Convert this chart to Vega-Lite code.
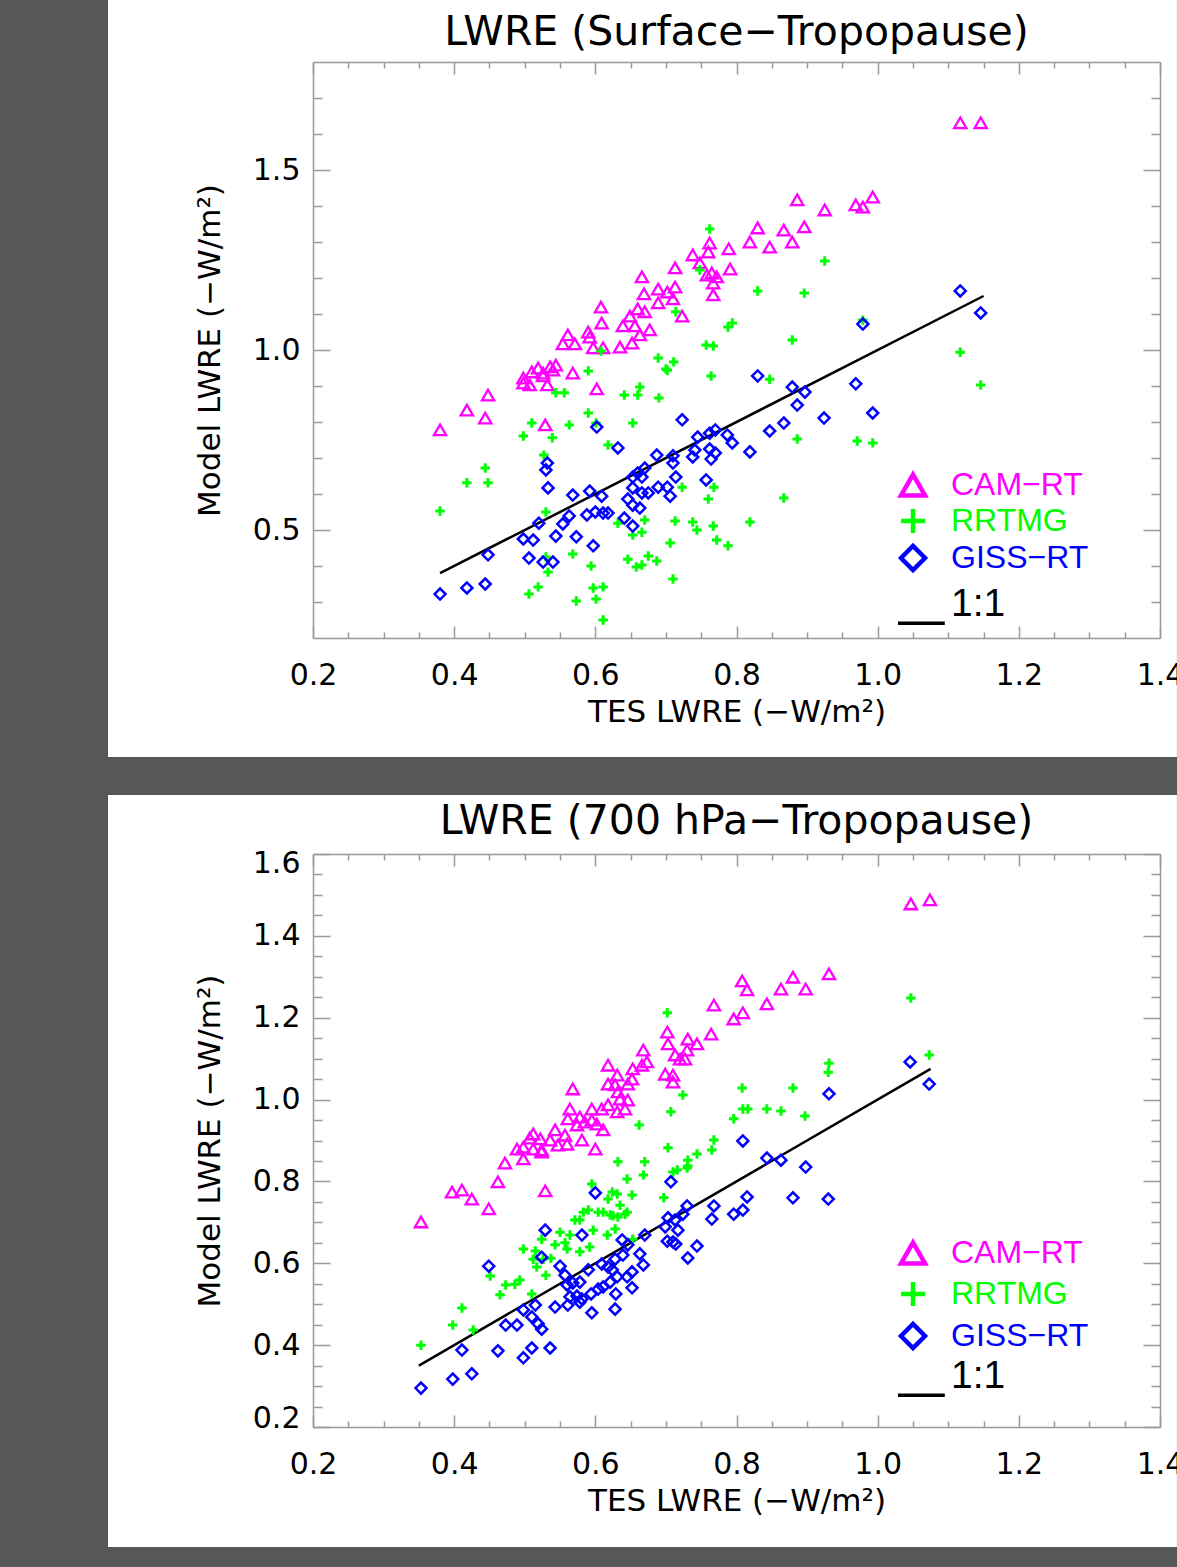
{
  "$schema": "https://vega.github.io/schema/vega-lite/v6.json",
  "background": "#575757",
  "padding": {"left": 108, "top": 0, "right": 0, "bottom": 22},
  "spacing": 36,
  "resolve": {"scale": {"color": "independent", "shape": "independent"}, "legend": {"color": "independent", "shape": "independent"}},
  "config": {
    "view": {"stroke": null},
    "axis": {"domainColor": "#999999", "domainWidth": 1.5, "tickColor": "#999999", "tickWidth": 1.5, "grid": false, "labelColor": "#000000", "titleColor": "#000000", "labelFont": "DejaVu Sans", "labelFontSize": 30, "titleFont": "DejaVu Sans", "titleFontSize": 31, "titleFontWeight": "normal"}
  },
  "datasets": {
    "tl": [{"x": 0.38, "y": 0.38}, {"x": 1.15, "y": 1.15}],
    "bl": [{"x": 0.35, "y": 0.35}, {"x": 1.075, "y": 1.075}],
    "tc": [
      {"m":"CAM−RT","x":0.380,"y":0.778},{"m":"CAM−RT","x":0.418,"y":0.833},{"m":"CAM−RT","x":0.444,"y":0.811},{"m":"CAM−RT","x":0.448,"y":0.875},{"m":"CAM−RT","x":0.498,"y":0.922},{"m":"CAM−RT","x":0.498,"y":0.908},{"m":"CAM−RT","x":0.507,"y":0.903},{"m":"CAM−RT","x":0.510,"y":0.939},{"m":"CAM−RT","x":0.519,"y":0.950},{"m":"CAM−RT","x":0.526,"y":0.928},{"m":"CAM−RT","x":0.526,"y":0.936},{"m":"CAM−RT","x":0.529,"y":0.792},{"m":"CAM−RT","x":0.532,"y":0.903},{"m":"CAM−RT","x":0.536,"y":0.953},{"m":"CAM−RT","x":0.540,"y":0.944},{"m":"CAM−RT","x":0.544,"y":0.958},{"m":"CAM−RT","x":0.554,"y":1.017},{"m":"CAM−RT","x":0.561,"y":1.042},{"m":"CAM−RT","x":0.568,"y":0.936},{"m":"CAM−RT","x":0.571,"y":1.017},{"m":"CAM−RT","x":0.590,"y":1.050},{"m":"CAM−RT","x":0.592,"y":1.036},{"m":"CAM−RT","x":0.597,"y":1.006},{"m":"CAM−RT","x":0.602,"y":0.892},{"m":"CAM−RT","x":0.608,"y":1.119},{"m":"CAM−RT","x":0.609,"y":1.075},{"m":"CAM−RT","x":0.611,"y":1.006},{"m":"CAM−RT","x":0.635,"y":1.008},{"m":"CAM−RT","x":0.639,"y":1.067},{"m":"CAM−RT","x":0.649,"y":1.094},{"m":"CAM−RT","x":0.652,"y":1.019},{"m":"CAM−RT","x":0.656,"y":1.067},{"m":"CAM−RT","x":0.660,"y":1.114},{"m":"CAM−RT","x":0.663,"y":1.042},{"m":"CAM−RT","x":0.666,"y":1.203},{"m":"CAM−RT","x":0.669,"y":1.156},{"m":"CAM−RT","x":0.670,"y":1.106},{"m":"CAM−RT","x":0.677,"y":1.056},{"m":"CAM−RT","x":0.689,"y":1.169},{"m":"CAM−RT","x":0.689,"y":1.131},{"m":"CAM−RT","x":0.702,"y":1.161},{"m":"CAM−RT","x":0.710,"y":1.142},{"m":"CAM−RT","x":0.713,"y":1.228},{"m":"CAM−RT","x":0.713,"y":1.175},{"m":"CAM−RT","x":0.723,"y":1.094},{"m":"CAM−RT","x":0.738,"y":1.264},{"m":"CAM−RT","x":0.748,"y":1.242},{"m":"CAM−RT","x":0.760,"y":1.272},{"m":"CAM−RT","x":0.762,"y":1.297},{"m":"CAM−RT","x":0.765,"y":1.214},{"m":"CAM−RT","x":0.767,"y":1.186},{"m":"CAM−RT","x":0.767,"y":1.153},{"m":"CAM−RT","x":0.758,"y":1.208},{"m":"CAM−RT","x":0.772,"y":1.203},{"m":"CAM−RT","x":0.789,"y":1.281},{"m":"CAM−RT","x":0.791,"y":1.225},{"m":"CAM−RT","x":0.819,"y":1.300},{"m":"CAM−RT","x":0.830,"y":1.339},{"m":"CAM−RT","x":0.847,"y":1.286},{"m":"CAM−RT","x":0.867,"y":1.333},{"m":"CAM−RT","x":0.879,"y":1.300},{"m":"CAM−RT","x":0.886,"y":1.417},{"m":"CAM−RT","x":0.896,"y":1.342},{"m":"CAM−RT","x":0.925,"y":1.389},{"m":"CAM−RT","x":0.969,"y":1.403},{"m":"CAM−RT","x":0.979,"y":1.397},{"m":"CAM−RT","x":0.993,"y":1.425},{"m":"CAM−RT","x":1.117,"y":1.631},{"m":"CAM−RT","x":1.146,"y":1.631}
    ],
    "tr": [
      {"m":"RRTMG","x":0.762,"y":1.336},{"m":"RRTMG","x":0.748,"y":1.222},{"m":"RRTMG","x":0.714,"y":1.106},{"m":"RRTMG","x":0.757,"y":1.014},{"m":"RRTMG","x":0.767,"y":1.011},{"m":"RRTMG","x":0.689,"y":0.978},{"m":"RRTMG","x":0.711,"y":0.967},{"m":"RRTMG","x":0.700,"y":0.947},{"m":"RRTMG","x":0.608,"y":0.997},{"m":"RRTMG","x":0.590,"y":0.942},{"m":"RRTMG","x":0.764,"y":0.928},{"m":"RRTMG","x":0.925,"y":1.247},{"m":"RRTMG","x":0.830,"y":1.164},{"m":"RRTMG","x":0.896,"y":1.158},{"m":"RRTMG","x":0.794,"y":1.075},{"m":"RRTMG","x":0.788,"y":1.064},{"m":"RRTMG","x":0.979,"y":1.083},{"m":"RRTMG","x":0.879,"y":1.028},{"m":"RRTMG","x":1.117,"y":0.994},{"m":"RRTMG","x":0.847,"y":0.919},{"m":"RRTMG","x":0.702,"y":0.944},{"m":"RRTMG","x":0.663,"y":0.897},{"m":"RRTMG","x":0.660,"y":0.875},{"m":"RRTMG","x":0.641,"y":0.875},{"m":"RRTMG","x":0.690,"y":0.867},{"m":"RRTMG","x":0.544,"y":0.881},{"m":"RRTMG","x":0.556,"y":0.881},{"m":"RRTMG","x":0.590,"y":0.825},{"m":"RRTMG","x":0.601,"y":0.797},{"m":"RRTMG","x":0.653,"y":0.797},{"m":"RRTMG","x":0.563,"y":0.792},{"m":"RRTMG","x":0.510,"y":0.797},{"m":"RRTMG","x":0.498,"y":0.761},{"m":"RRTMG","x":0.539,"y":0.756},{"m":"RRTMG","x":0.618,"y":0.736},{"m":"RRTMG","x":0.527,"y":0.708},{"m":"RRTMG","x":0.444,"y":0.672},{"m":"RRTMG","x":0.418,"y":0.631},{"m":"RRTMG","x":0.448,"y":0.631},{"m":"RRTMG","x":0.380,"y":0.553},{"m":"RRTMG","x":0.530,"y":0.550},{"m":"RRTMG","x":0.723,"y":0.619},{"m":"RRTMG","x":0.670,"y":0.528},{"m":"RRTMG","x":0.632,"y":0.519},{"m":"RRTMG","x":0.713,"y":0.525},{"m":"RRTMG","x":0.738,"y":0.522},{"m":"RRTMG","x":0.744,"y":0.500},{"m":"RRTMG","x":0.653,"y":0.486},{"m":"RRTMG","x":0.666,"y":0.494},{"m":"RRTMG","x":0.706,"y":0.464},{"m":"RRTMG","x":0.568,"y":0.433},{"m":"RRTMG","x":0.530,"y":0.425},{"m":"RRTMG","x":0.594,"y":0.400},{"m":"RRTMG","x":0.646,"y":0.419},{"m":"RRTMG","x":0.658,"y":0.397},{"m":"RRTMG","x":0.666,"y":0.403},{"m":"RRTMG","x":0.675,"y":0.428},{"m":"RRTMG","x":0.687,"y":0.414},{"m":"RRTMG","x":0.710,"y":0.364},{"m":"RRTMG","x":0.533,"y":0.383},{"m":"RRTMG","x":0.519,"y":0.342},{"m":"RRTMG","x":0.506,"y":0.322},{"m":"RRTMG","x":0.597,"y":0.339},{"m":"RRTMG","x":0.611,"y":0.342},{"m":"RRTMG","x":0.573,"y":0.303},{"m":"RRTMG","x":0.601,"y":0.308},{"m":"RRTMG","x":0.611,"y":0.250},{"m":"RRTMG","x":1.146,"y":0.903},{"m":"RRTMG","x":0.886,"y":0.753},{"m":"RRTMG","x":0.971,"y":0.747},{"m":"RRTMG","x":0.993,"y":0.742},{"m":"RRTMG","x":0.768,"y":0.619},{"m":"RRTMG","x":0.760,"y":0.586},{"m":"RRTMG","x":0.867,"y":0.589},{"m":"RRTMG","x":0.819,"y":0.522},{"m":"RRTMG","x":0.767,"y":0.511},{"m":"RRTMG","x":0.772,"y":0.472},{"m":"RRTMG","x":0.788,"y":0.456}
    ],
    "tg": [
      {"m":"GISS−RT","x":1.117,"y":1.164},{"m":"GISS−RT","x":1.146,"y":1.103},{"m":"GISS−RT","x":0.979,"y":1.072},{"m":"GISS−RT","x":0.830,"y":0.928},{"m":"GISS−RT","x":0.723,"y":0.806},{"m":"GISS−RT","x":0.602,"y":0.786},{"m":"GISS−RT","x":0.632,"y":0.728},{"m":"GISS−RT","x":0.532,"y":0.686},{"m":"GISS−RT","x":0.530,"y":0.667},{"m":"GISS−RT","x":0.533,"y":0.617},{"m":"GISS−RT","x":0.568,"y":0.597},{"m":"GISS−RT","x":0.592,"y":0.608},{"m":"GISS−RT","x":0.609,"y":0.594},{"m":"GISS−RT","x":0.687,"y":0.708},{"m":"GISS−RT","x":0.710,"y":0.706},{"m":"GISS−RT","x":0.710,"y":0.686},{"m":"GISS−RT","x":0.745,"y":0.758},{"m":"GISS−RT","x":0.660,"y":0.658},{"m":"GISS−RT","x":0.670,"y":0.672},{"m":"GISS−RT","x":0.666,"y":0.647},{"m":"GISS−RT","x":0.653,"y":0.647},{"m":"GISS−RT","x":0.653,"y":0.617},{"m":"GISS−RT","x":0.666,"y":0.603},{"m":"GISS−RT","x":0.675,"y":0.603},{"m":"GISS−RT","x":0.689,"y":0.619},{"m":"GISS−RT","x":0.702,"y":0.619},{"m":"GISS−RT","x":0.706,"y":0.594},{"m":"GISS−RT","x":0.714,"y":0.647},{"m":"GISS−RT","x":0.646,"y":0.586},{"m":"GISS−RT","x":0.653,"y":0.569},{"m":"GISS−RT","x":0.663,"y":0.561},{"m":"GISS−RT","x":0.588,"y":0.542},{"m":"GISS−RT","x":0.600,"y":0.550},{"m":"GISS−RT","x":0.611,"y":0.547},{"m":"GISS−RT","x":0.618,"y":0.547},{"m":"GISS−RT","x":0.563,"y":0.539},{"m":"GISS−RT","x":0.554,"y":0.517},{"m":"GISS−RT","x":0.520,"y":0.519},{"m":"GISS−RT","x":0.641,"y":0.533},{"m":"GISS−RT","x":0.653,"y":0.511},{"m":"GISS−RT","x":0.544,"y":0.483},{"m":"GISS−RT","x":0.573,"y":0.481},{"m":"GISS−RT","x":0.597,"y":0.456},{"m":"GISS−RT","x":0.498,"y":0.475},{"m":"GISS−RT","x":0.512,"y":0.472},{"m":"GISS−RT","x":0.448,"y":0.431},{"m":"GISS−RT","x":0.506,"y":0.422},{"m":"GISS−RT","x":0.526,"y":0.411},{"m":"GISS−RT","x":0.540,"y":0.411},{"m":"GISS−RT","x":0.444,"y":0.350},{"m":"GISS−RT","x":0.418,"y":0.339},{"m":"GISS−RT","x":0.380,"y":0.322},{"m":"GISS−RT","x":0.879,"y":0.897},{"m":"GISS−RT","x":0.897,"y":0.883},{"m":"GISS−RT","x":0.969,"y":0.906},{"m":"GISS−RT","x":0.886,"y":0.847},{"m":"GISS−RT","x":0.993,"y":0.825},{"m":"GISS−RT","x":0.924,"y":0.811},{"m":"GISS−RT","x":0.867,"y":0.797},{"m":"GISS−RT","x":0.847,"y":0.775},{"m":"GISS−RT","x":0.819,"y":0.717},{"m":"GISS−RT","x":0.762,"y":0.769},{"m":"GISS−RT","x":0.770,"y":0.778},{"m":"GISS−RT","x":0.787,"y":0.764},{"m":"GISS−RT","x":0.794,"y":0.742},{"m":"GISS−RT","x":0.741,"y":0.722},{"m":"GISS−RT","x":0.738,"y":0.703},{"m":"GISS−RT","x":0.762,"y":0.725},{"m":"GISS−RT","x":0.770,"y":0.714},{"m":"GISS−RT","x":0.764,"y":0.697},{"m":"GISS−RT","x":0.757,"y":0.639}
    ],
    "bc": [
      {"m":"CAM−RT","x":1.047,"y":1.478},{"m":"CAM−RT","x":1.074,"y":1.488},{"m":"CAM−RT","x":0.931,"y":1.307},{"m":"CAM−RT","x":0.880,"y":1.299},{"m":"CAM−RT","x":0.808,"y":1.290},{"m":"CAM−RT","x":0.815,"y":1.268},{"m":"CAM−RT","x":0.863,"y":1.270},{"m":"CAM−RT","x":0.898,"y":1.270},{"m":"CAM−RT","x":0.843,"y":1.234},{"m":"CAM−RT","x":0.768,"y":1.231},{"m":"CAM−RT","x":0.809,"y":1.212},{"m":"CAM−RT","x":0.796,"y":1.197},{"m":"CAM−RT","x":0.764,"y":1.160},{"m":"CAM−RT","x":0.702,"y":1.165},{"m":"CAM−RT","x":0.703,"y":1.136},{"m":"CAM−RT","x":0.731,"y":1.148},{"m":"CAM−RT","x":0.744,"y":1.136},{"m":"CAM−RT","x":0.730,"y":1.121},{"m":"CAM−RT","x":0.713,"y":1.109},{"m":"CAM−RT","x":0.720,"y":1.099},{"m":"CAM−RT","x":0.727,"y":1.099},{"m":"CAM−RT","x":0.699,"y":1.062},{"m":"CAM−RT","x":0.710,"y":1.060},{"m":"CAM−RT","x":0.710,"y":1.043},{"m":"CAM−RT","x":0.668,"y":1.121},{"m":"CAM−RT","x":0.673,"y":1.092},{"m":"CAM−RT","x":0.666,"y":1.084},{"m":"CAM−RT","x":0.618,"y":1.084},{"m":"CAM−RT","x":0.653,"y":1.075},{"m":"CAM−RT","x":0.652,"y":1.050},{"m":"CAM−RT","x":0.631,"y":1.060},{"m":"CAM−RT","x":0.618,"y":1.038},{"m":"CAM−RT","x":0.628,"y":1.036},{"m":"CAM−RT","x":0.646,"y":1.038},{"m":"CAM−RT","x":0.632,"y":1.019},{"m":"CAM−RT","x":0.635,"y":1.001},{"m":"CAM−RT","x":0.646,"y":0.999},{"m":"CAM−RT","x":0.568,"y":1.026},{"m":"CAM−RT","x":0.595,"y":0.977},{"m":"CAM−RT","x":0.609,"y":0.977},{"m":"CAM−RT","x":0.618,"y":0.987},{"m":"CAM−RT","x":0.564,"y":0.977},{"m":"CAM−RT","x":0.561,"y":0.953},{"m":"CAM−RT","x":0.578,"y":0.957},{"m":"CAM−RT","x":0.585,"y":0.945},{"m":"CAM−RT","x":0.595,"y":0.950},{"m":"CAM−RT","x":0.574,"y":0.938},{"m":"CAM−RT","x":0.602,"y":0.940},{"m":"CAM−RT","x":0.631,"y":0.970},{"m":"CAM−RT","x":0.642,"y":0.977},{"m":"CAM−RT","x":0.611,"y":0.926},{"m":"CAM−RT","x":0.543,"y":0.926},{"m":"CAM−RT","x":0.557,"y":0.913},{"m":"CAM−RT","x":0.560,"y":0.891},{"m":"CAM−RT","x":0.512,"y":0.916},{"m":"CAM−RT","x":0.507,"y":0.906},{"m":"CAM−RT","x":0.522,"y":0.904},{"m":"CAM−RT","x":0.547,"y":0.889},{"m":"CAM−RT","x":0.536,"y":0.901},{"m":"CAM−RT","x":0.581,"y":0.901},{"m":"CAM−RT","x":0.600,"y":0.879},{"m":"CAM−RT","x":0.489,"y":0.879},{"m":"CAM−RT","x":0.498,"y":0.884},{"m":"CAM−RT","x":0.512,"y":0.879},{"m":"CAM−RT","x":0.524,"y":0.877},{"m":"CAM−RT","x":0.498,"y":0.855},{"m":"CAM−RT","x":0.472,"y":0.845},{"m":"CAM−RT","x":0.524,"y":0.872},{"m":"CAM−RT","x":0.462,"y":0.799},{"m":"CAM−RT","x":0.397,"y":0.774},{"m":"CAM−RT","x":0.411,"y":0.779},{"m":"CAM−RT","x":0.425,"y":0.757},{"m":"CAM−RT","x":0.449,"y":0.733},{"m":"CAM−RT","x":0.353,"y":0.701},{"m":"CAM−RT","x":0.529,"y":0.777}
    ],
    "br": [
      {"m":"RRTMG","x":1.047,"y":1.248},{"m":"RRTMG","x":0.702,"y":1.212},{"m":"RRTMG","x":1.073,"y":1.109},{"m":"RRTMG","x":0.931,"y":1.089},{"m":"RRTMG","x":0.930,"y":1.067},{"m":"RRTMG","x":0.724,"y":1.011},{"m":"RRTMG","x":0.808,"y":1.028},{"m":"RRTMG","x":0.880,"y":1.028},{"m":"RRTMG","x":0.707,"y":0.970},{"m":"RRTMG","x":0.809,"y":0.977},{"m":"RRTMG","x":0.816,"y":0.977},{"m":"RRTMG","x":0.796,"y":0.953},{"m":"RRTMG","x":0.843,"y":0.977},{"m":"RRTMG","x":0.863,"y":0.972},{"m":"RRTMG","x":0.897,"y":0.960},{"m":"RRTMG","x":0.703,"y":0.882},{"m":"RRTMG","x":0.768,"y":0.901},{"m":"RRTMG","x":0.765,"y":0.877},{"m":"RRTMG","x":0.744,"y":0.867},{"m":"RRTMG","x":0.731,"y":0.852},{"m":"RRTMG","x":0.662,"y":0.938},{"m":"RRTMG","x":0.632,"y":0.848},{"m":"RRTMG","x":0.670,"y":0.848},{"m":"RRTMG","x":0.645,"y":0.806},{"m":"RRTMG","x":0.668,"y":0.816},{"m":"RRTMG","x":0.595,"y":0.794},{"m":"RRTMG","x":0.624,"y":0.774},{"m":"RRTMG","x":0.631,"y":0.769},{"m":"RRTMG","x":0.652,"y":0.767},{"m":"RRTMG","x":0.697,"y":0.760},{"m":"RRTMG","x":0.618,"y":0.757},{"m":"RRTMG","x":0.635,"y":0.742},{"m":"RRTMG","x":0.645,"y":0.725},{"m":"RRTMG","x":0.590,"y":0.730},{"m":"RRTMG","x":0.583,"y":0.725},{"m":"RRTMG","x":0.604,"y":0.725},{"m":"RRTMG","x":0.611,"y":0.725},{"m":"RRTMG","x":0.621,"y":0.718},{"m":"RRTMG","x":0.625,"y":0.716},{"m":"RRTMG","x":0.632,"y":0.713},{"m":"RRTMG","x":0.642,"y":0.720},{"m":"RRTMG","x":0.571,"y":0.706},{"m":"RRTMG","x":0.578,"y":0.706},{"m":"RRTMG","x":0.597,"y":0.681},{"m":"RRTMG","x":0.617,"y":0.669},{"m":"RRTMG","x":0.628,"y":0.684},{"m":"RRTMG","x":0.550,"y":0.676},{"m":"RRTMG","x":0.564,"y":0.669},{"m":"RRTMG","x":0.524,"y":0.659},{"m":"RRTMG","x":0.543,"y":0.645},{"m":"RRTMG","x":0.557,"y":0.650},{"m":"RRTMG","x":0.498,"y":0.635},{"m":"RRTMG","x":0.515,"y":0.630},{"m":"RRTMG","x":0.560,"y":0.635},{"m":"RRTMG","x":0.578,"y":0.628},{"m":"RRTMG","x":0.592,"y":0.640},{"m":"RRTMG","x":0.512,"y":0.610},{"m":"RRTMG","x":0.526,"y":0.610},{"m":"RRTMG","x":0.537,"y":0.612},{"m":"RRTMG","x":0.517,"y":0.591},{"m":"RRTMG","x":0.530,"y":0.571},{"m":"RRTMG","x":0.653,"y":0.659},{"m":"RRTMG","x":0.451,"y":0.569},{"m":"RRTMG","x":0.493,"y":0.559},{"m":"RRTMG","x":0.473,"y":0.547},{"m":"RRTMG","x":0.486,"y":0.549},{"m":"RRTMG","x":0.465,"y":0.523},{"m":"RRTMG","x":0.510,"y":0.525},{"m":"RRTMG","x":0.411,"y":0.491},{"m":"RRTMG","x":0.398,"y":0.449},{"m":"RRTMG","x":0.427,"y":0.437},{"m":"RRTMG","x":0.353,"y":0.400},{"m":"RRTMG","x":0.710,"y":0.823},{"m":"RRTMG","x":0.716,"y":0.828},{"m":"RRTMG","x":0.730,"y":0.833},{"m":"RRTMG","x":0.731,"y":0.838}
    ],
    "bg": [
      {"m":"GISS−RT","x":1.046,"y":1.092},{"m":"GISS−RT","x":1.073,"y":1.038},{"m":"GISS−RT","x":0.931,"y":1.014},{"m":"GISS−RT","x":0.809,"y":0.899},{"m":"GISS−RT","x":0.843,"y":0.857},{"m":"GISS−RT","x":0.863,"y":0.852},{"m":"GISS−RT","x":0.898,"y":0.835},{"m":"GISS−RT","x":0.707,"y":0.799},{"m":"GISS−RT","x":0.815,"y":0.762},{"m":"GISS−RT","x":0.880,"y":0.760},{"m":"GISS−RT","x":0.930,"y":0.757},{"m":"GISS−RT","x":0.730,"y":0.740},{"m":"GISS−RT","x":0.768,"y":0.740},{"m":"GISS−RT","x":0.724,"y":0.720},{"m":"GISS−RT","x":0.809,"y":0.730},{"m":"GISS−RT","x":0.796,"y":0.720},{"m":"GISS−RT","x":0.765,"y":0.708},{"m":"GISS−RT","x":0.703,"y":0.711},{"m":"GISS−RT","x":0.713,"y":0.706},{"m":"GISS−RT","x":0.699,"y":0.689},{"m":"GISS−RT","x":0.717,"y":0.681},{"m":"GISS−RT","x":0.702,"y":0.654},{"m":"GISS−RT","x":0.710,"y":0.652},{"m":"GISS−RT","x":0.714,"y":0.647},{"m":"GISS−RT","x":0.744,"y":0.642},{"m":"GISS−RT","x":0.731,"y":0.613},{"m":"GISS−RT","x":0.600,"y":0.772},{"m":"GISS−RT","x":0.529,"y":0.681},{"m":"GISS−RT","x":0.581,"y":0.669},{"m":"GISS−RT","x":0.638,"y":0.657},{"m":"GISS−RT","x":0.646,"y":0.645},{"m":"GISS−RT","x":0.670,"y":0.669},{"m":"GISS−RT","x":0.663,"y":0.623},{"m":"GISS−RT","x":0.668,"y":0.596},{"m":"GISS−RT","x":0.639,"y":0.620},{"m":"GISS−RT","x":0.628,"y":0.610},{"m":"GISS−RT","x":0.609,"y":0.598},{"m":"GISS−RT","x":0.618,"y":0.591},{"m":"GISS−RT","x":0.624,"y":0.584},{"m":"GISS−RT","x":0.631,"y":0.567},{"m":"GISS−RT","x":0.645,"y":0.567},{"m":"GISS−RT","x":0.652,"y":0.579},{"m":"GISS−RT","x":0.590,"y":0.584},{"m":"GISS−RT","x":0.550,"y":0.593},{"m":"GISS−RT","x":0.557,"y":0.571},{"m":"GISS−RT","x":0.524,"y":0.615},{"m":"GISS−RT","x":0.449,"y":0.593},{"m":"GISS−RT","x":0.568,"y":0.552},{"m":"GISS−RT","x":0.578,"y":0.554},{"m":"GISS−RT","x":0.560,"y":0.547},{"m":"GISS−RT","x":0.604,"y":0.537},{"m":"GISS−RT","x":0.611,"y":0.542},{"m":"GISS−RT","x":0.621,"y":0.554},{"m":"GISS−RT","x":0.652,"y":0.540},{"m":"GISS−RT","x":0.629,"y":0.525},{"m":"GISS−RT","x":0.564,"y":0.518},{"m":"GISS−RT","x":0.574,"y":0.520},{"m":"GISS−RT","x":0.581,"y":0.513},{"m":"GISS−RT","x":0.578,"y":0.505},{"m":"GISS−RT","x":0.594,"y":0.525},{"m":"GISS−RT","x":0.543,"y":0.493},{"m":"GISS−RT","x":0.561,"y":0.498},{"m":"GISS−RT","x":0.515,"y":0.498},{"m":"GISS−RT","x":0.498,"y":0.486},{"m":"GISS−RT","x":0.510,"y":0.469},{"m":"GISS−RT","x":0.519,"y":0.452},{"m":"GISS−RT","x":0.524,"y":0.439},{"m":"GISS−RT","x":0.595,"y":0.479},{"m":"GISS−RT","x":0.628,"y":0.488},{"m":"GISS−RT","x":0.473,"y":0.449},{"m":"GISS−RT","x":0.489,"y":0.449},{"m":"GISS−RT","x":0.411,"y":0.388},{"m":"GISS−RT","x":0.462,"y":0.386},{"m":"GISS−RT","x":0.510,"y":0.393},{"m":"GISS−RT","x":0.536,"y":0.393},{"m":"GISS−RT","x":0.498,"y":0.369},{"m":"GISS−RT","x":0.398,"y":0.317},{"m":"GISS−RT","x":0.425,"y":0.330},{"m":"GISS−RT","x":0.353,"y":0.295}
    ]
  },
  "vconcat": [
    {
      "width": 847,
      "height": 576,
      "title": {"text": "LWRE (Surface−Tropopause)", "font": "DejaVu Sans", "fontSize": 41, "fontWeight": "normal", "color": "#000000", "frame": "group", "anchor": "middle", "offset": -54},
      "resolve": {"axis": {"x": "independent", "y": "independent"}},
      "layer": [
        {
          "data": {"values": [{}]},
          "mark": {"type": "rect", "fill": "#ffffff", "strokeWidth": 0},
          "encoding": {
            "x": {"datum": -0.0904, "type": "quantitative", "scale": {"domain": [0.2, 1.4], "nice": false, "zero": false},
                  "axis": {"orient": "bottom", "zindex": 1, "values": [0.2, 0.4, 0.6, 0.8, 1.0, 1.2, 1.4], "format": ".1f", "tickSize": -12, "labelPadding": 34, "labelFlush": false, "labelOverlap": false, "title": "TES LWRE (−W/m²)", "titlePadding": 7}},
            "x2": {"datum": 1.424},
            "y": {"datum": 1.9722, "type": "quantitative", "scale": {"domain": [0.2, 1.8], "nice": false, "zero": false},
                  "axis": {"orient": "left", "zindex": 1, "values": [0.5, 1.0, 1.5], "format": ".1f", "tickSize": -17, "labelPadding": 30, "labelFlush": false, "labelOverlap": false, "title": "Model LWRE (−W/m²)", "titlePadding": 26}},
            "y2": {"datum": -0.1306}
          }
        },
        {
          "data": {"name": "tl"},
          "mark": {"type": "line", "color": "#000000", "strokeWidth": 2.5},
          "encoding": {
            "x": {"field": "x", "type": "quantitative", "scale": {"domain": [0.2, 1.4], "nice": false, "zero": false},
                  "axis": {"orient": "top", "zindex": 1, "values": [0.2, 0.4, 0.6, 0.8, 1.0, 1.2, 1.4], "tickSize": -12, "labels": false, "title": null}},
            "y": {"field": "y", "type": "quantitative", "scale": {"domain": [0.2, 1.8], "nice": false, "zero": false},
                  "axis": {"orient": "right", "zindex": 1, "values": [0.5, 1.0, 1.5], "tickSize": -17, "labels": false, "title": null}}
          }
        },
        {
          "data": {"name": "tc"},
          "mark": {"type": "point", "filled": false, "opacity": 1, "strokeWidth": 2.3, "size": 150},
          "encoding": {
            "x": {"field": "x", "type": "quantitative", "scale": {"domain": [0.2, 1.4], "nice": false, "zero": false},
                  "axis": {"orient": "bottom", "zindex": 1, "values": [0.25, 0.3, 0.35, 0.45, 0.5, 0.55, 0.65, 0.7, 0.75, 0.85, 0.9, 0.95, 1.05, 1.1, 1.15, 1.25, 1.3, 1.35], "tickSize": -6, "labels": false, "domain": false, "title": null}},
            "y": {"field": "y", "type": "quantitative", "scale": {"domain": [0.2, 1.8], "nice": false, "zero": false},
                  "axis": {"orient": "left", "zindex": 1, "values": [0.3, 0.4, 0.6, 0.7, 0.8, 0.9, 1.1, 1.2, 1.3, 1.4, 1.6, 1.7], "tickSize": -9, "labels": false, "domain": false, "title": null}},
            "color": {"field": "m", "type": "nominal", "scale": {"domain": ["CAM−RT", "RRTMG", "GISS−RT", "1:1"], "range": ["#ff00ff", "#00ff00", "#0000ff", "#000000"]},
                      "legend": {"title": null, "orient": "none", "legendX": 584, "legendY": 407, "padding": 0, "gridAlign": "none", "symbolSize": 576, "symbolStrokeWidth": {"expr": "datum.value === '1:1' ? 3.5 : 4.5"}, "labelFont": "Liberation Sans", "labelFontSize": {"expr": "datum.value === '1:1' ? 39 : 32"}, "labelColor": {"expr": "datum.value === '1:1' ? '#000000' : indexof(datum.value, 'CAM') === 0 ? '#ff00ff' : indexof(datum.value, 'RR') === 0 ? '#00ff00' : '#0000ff'"}, "labelOffset": 22, "rowPadding": -5, "labelLimit": 300}},
            "shape": {"field": "m", "type": "nominal", "scale": {"domain": ["CAM−RT", "RRTMG", "GISS−RT", "1:1"], "range": ["triangle-up", "M-1,0H1M0,-1V1", "diamond", "M0,-1.85M-1.25,1.6H2.65"]},
                      "legend": {"title": null, "orient": "none", "legendX": 584, "legendY": 407, "padding": 0, "gridAlign": "none", "symbolSize": 576, "symbolStrokeWidth": {"expr": "datum.value === '1:1' ? 3.5 : 4.5"}, "labelFont": "Liberation Sans", "labelFontSize": {"expr": "datum.value === '1:1' ? 39 : 32"}, "labelColor": {"expr": "datum.value === '1:1' ? '#000000' : indexof(datum.value, 'CAM') === 0 ? '#ff00ff' : indexof(datum.value, 'RR') === 0 ? '#00ff00' : '#0000ff'"}, "labelOffset": 22, "rowPadding": -5, "labelLimit": 300}}
          }
        },
        {
          "data": {"name": "tr"},
          "mark": {"type": "point", "filled": false, "opacity": 1, "strokeWidth": 3, "size": 90},
          "encoding": {
            "x": {"field": "x", "type": "quantitative", "scale": {"domain": [0.2, 1.4], "nice": false, "zero": false},
                  "axis": {"orient": "top", "zindex": 1, "values": [0.25, 0.3, 0.35, 0.45, 0.5, 0.55, 0.65, 0.7, 0.75, 0.85, 0.9, 0.95, 1.05, 1.1, 1.15, 1.25, 1.3, 1.35], "tickSize": -6, "labels": false, "domain": false, "title": null}},
            "y": {"field": "y", "type": "quantitative", "scale": {"domain": [0.2, 1.8], "nice": false, "zero": false},
                  "axis": {"orient": "right", "zindex": 1, "values": [0.3, 0.4, 0.6, 0.7, 0.8, 0.9, 1.1, 1.2, 1.3, 1.4, 1.6, 1.7], "tickSize": -9, "labels": false, "domain": false, "title": null}},
            "color": {"field": "m", "type": "nominal", "scale": {"domain": ["CAM−RT", "RRTMG", "GISS−RT", "1:1"], "range": ["#ff00ff", "#00ff00", "#0000ff", "#000000"]}, "legend": null},
            "shape": {"field": "m", "type": "nominal", "scale": {"domain": ["CAM−RT", "RRTMG", "GISS−RT", "1:1"], "range": ["triangle-up", "M-1,0H1M0,-1V1", "diamond", "M0,-1.85M-1.25,1.6H2.65"]}, "legend": null}
          }
        },
        {
          "data": {"name": "tg"},
          "mark": {"type": "point", "filled": false, "opacity": 1, "strokeWidth": 2.5, "size": 121},
          "encoding": {
            "x": {"field": "x", "type": "quantitative", "scale": {"domain": [0.2, 1.4], "nice": false, "zero": false}, "axis": null},
            "y": {"field": "y", "type": "quantitative", "scale": {"domain": [0.2, 1.8], "nice": false, "zero": false}, "axis": null},
            "color": {"field": "m", "type": "nominal", "scale": {"domain": ["CAM−RT", "RRTMG", "GISS−RT", "1:1"], "range": ["#ff00ff", "#00ff00", "#0000ff", "#000000"]}, "legend": null},
            "shape": {"field": "m", "type": "nominal", "scale": {"domain": ["CAM−RT", "RRTMG", "GISS−RT", "1:1"], "range": ["triangle-up", "M-1,0H1M0,-1V1", "diamond", "M0,-1.85M-1.25,1.6H2.65"]}, "legend": null}
          }
        }
      ]
    },
    {
      "width": 847,
      "height": 573,
      "title": {"text": "LWRE (700 hPa−Tropopause)", "font": "DejaVu Sans", "fontSize": 41, "fontWeight": "normal", "color": "#000000", "frame": "group", "anchor": "middle", "offset": -48},
      "resolve": {"axis": {"x": "independent", "y": "independent"}},
      "layer": [
        {
          "data": {"values": [{}]},
          "mark": {"type": "rect", "fill": "#ffffff", "strokeWidth": 0},
          "encoding": {
            "x": {"datum": -0.0904, "type": "quantitative", "scale": {"domain": [0.2, 1.4], "nice": false, "zero": false},
                  "axis": {"orient": "bottom", "zindex": 1, "values": [0.2, 0.4, 0.6, 0.8, 1.0, 1.2, 1.4], "format": ".1f", "tickSize": -12, "labelPadding": 34, "labelFlush": false, "labelOverlap": false, "title": "TES LWRE (−W/m²)", "titlePadding": 7}},
            "x2": {"datum": 1.424},
            "y": {"datum": 1.7442, "type": "quantitative", "scale": {"domain": [0.2, 1.6], "nice": false, "zero": false},
                  "axis": {"orient": "left", "zindex": 1, "values": [0.2, 0.4, 0.6, 0.8, 1.0, 1.2, 1.4, 1.6], "format": ".1f", "tickSize": -17, "labelPadding": 30, "labelFlush": true, "labelFlushOffset": 6, "labelOverlap": false, "title": "Model LWRE (−W/m²)", "titlePadding": 26}},
            "y2": {"datum": -0.0932}
          }
        },
        {
          "data": {"name": "bl"},
          "mark": {"type": "line", "color": "#000000", "strokeWidth": 2.5},
          "encoding": {
            "x": {"field": "x", "type": "quantitative", "scale": {"domain": [0.2, 1.4], "nice": false, "zero": false},
                  "axis": {"orient": "top", "zindex": 1, "values": [0.2, 0.4, 0.6, 0.8, 1.0, 1.2, 1.4], "tickSize": -12, "labels": false, "title": null}},
            "y": {"field": "y", "type": "quantitative", "scale": {"domain": [0.2, 1.6], "nice": false, "zero": false},
                  "axis": {"orient": "right", "zindex": 1, "values": [0.2, 0.4, 0.6, 0.8, 1.0, 1.2, 1.4, 1.6], "tickSize": -17, "labels": false, "title": null}}
          }
        },
        {
          "data": {"name": "bc"},
          "mark": {"type": "point", "filled": false, "opacity": 1, "strokeWidth": 2.3, "size": 150},
          "encoding": {
            "x": {"field": "x", "type": "quantitative", "scale": {"domain": [0.2, 1.4], "nice": false, "zero": false},
                  "axis": {"orient": "bottom", "zindex": 1, "values": [0.25, 0.3, 0.35, 0.45, 0.5, 0.55, 0.65, 0.7, 0.75, 0.85, 0.9, 0.95, 1.05, 1.1, 1.15, 1.25, 1.3, 1.35], "tickSize": -6, "labels": false, "domain": false, "title": null}},
            "y": {"field": "y", "type": "quantitative", "scale": {"domain": [0.2, 1.6], "nice": false, "zero": false},
                  "axis": {"orient": "left", "zindex": 1, "values": [0.25, 0.3, 0.35, 0.45, 0.5, 0.55, 0.65, 0.7, 0.75, 0.85, 0.9, 0.95, 1.05, 1.1, 1.15, 1.25, 1.3, 1.35, 1.45, 1.5, 1.55], "tickSize": -9, "labels": false, "domain": false, "title": null}},
            "color": {"field": "m", "type": "nominal", "scale": {"domain": ["CAM−RT", "RRTMG", "GISS−RT", "1:1"], "range": ["#ff00ff", "#00ff00", "#0000ff", "#000000"]},
                      "legend": {"title": null, "orient": "none", "legendX": 584, "legendY": 383, "padding": 0, "gridAlign": "none", "symbolSize": 576, "symbolStrokeWidth": {"expr": "datum.value === '1:1' ? 3.5 : 4.5"}, "labelFont": "Liberation Sans", "labelFontSize": {"expr": "datum.value === '1:1' ? 39 : 32"}, "labelColor": {"expr": "datum.value === '1:1' ? '#000000' : indexof(datum.value, 'CAM') === 0 ? '#ff00ff' : indexof(datum.value, 'RR') === 0 ? '#00ff00' : '#0000ff'"}, "labelOffset": 22, "rowPadding": 0, "labelLimit": 300}},
            "shape": {"field": "m", "type": "nominal", "scale": {"domain": ["CAM−RT", "RRTMG", "GISS−RT", "1:1"], "range": ["triangle-up", "M-1,0H1M0,-1V1", "diamond", "M-1.25,1.6H2.65"]},
                      "legend": {"title": null, "orient": "none", "legendX": 584, "legendY": 383, "padding": 0, "gridAlign": "none", "symbolSize": 576, "symbolStrokeWidth": {"expr": "datum.value === '1:1' ? 3.5 : 4.5"}, "labelFont": "Liberation Sans", "labelFontSize": {"expr": "datum.value === '1:1' ? 39 : 32"}, "labelColor": {"expr": "datum.value === '1:1' ? '#000000' : indexof(datum.value, 'CAM') === 0 ? '#ff00ff' : indexof(datum.value, 'RR') === 0 ? '#00ff00' : '#0000ff'"}, "labelOffset": 22, "rowPadding": 0, "labelLimit": 300}}
          }
        },
        {
          "data": {"name": "br"},
          "mark": {"type": "point", "filled": false, "opacity": 1, "strokeWidth": 3, "size": 90},
          "encoding": {
            "x": {"field": "x", "type": "quantitative", "scale": {"domain": [0.2, 1.4], "nice": false, "zero": false},
                  "axis": {"orient": "top", "zindex": 1, "values": [0.25, 0.3, 0.35, 0.45, 0.5, 0.55, 0.65, 0.7, 0.75, 0.85, 0.9, 0.95, 1.05, 1.1, 1.15, 1.25, 1.3, 1.35], "tickSize": -6, "labels": false, "domain": false, "title": null}},
            "y": {"field": "y", "type": "quantitative", "scale": {"domain": [0.2, 1.6], "nice": false, "zero": false},
                  "axis": {"orient": "right", "zindex": 1, "values": [0.25, 0.3, 0.35, 0.45, 0.5, 0.55, 0.65, 0.7, 0.75, 0.85, 0.9, 0.95, 1.05, 1.1, 1.15, 1.25, 1.3, 1.35, 1.45, 1.5, 1.55], "tickSize": -9, "labels": false, "domain": false, "title": null}},
            "color": {"field": "m", "type": "nominal", "scale": {"domain": ["CAM−RT", "RRTMG", "GISS−RT", "1:1"], "range": ["#ff00ff", "#00ff00", "#0000ff", "#000000"]}, "legend": null},
            "shape": {"field": "m", "type": "nominal", "scale": {"domain": ["CAM−RT", "RRTMG", "GISS−RT", "1:1"], "range": ["triangle-up", "M-1,0H1M0,-1V1", "diamond", "M-1.25,1.6H2.65"]}, "legend": null}
          }
        },
        {
          "data": {"name": "bg"},
          "mark": {"type": "point", "filled": false, "opacity": 1, "strokeWidth": 2.5, "size": 121},
          "encoding": {
            "x": {"field": "x", "type": "quantitative", "scale": {"domain": [0.2, 1.4], "nice": false, "zero": false}, "axis": null},
            "y": {"field": "y", "type": "quantitative", "scale": {"domain": [0.2, 1.6], "nice": false, "zero": false}, "axis": null},
            "color": {"field": "m", "type": "nominal", "scale": {"domain": ["CAM−RT", "RRTMG", "GISS−RT", "1:1"], "range": ["#ff00ff", "#00ff00", "#0000ff", "#000000"]}, "legend": null},
            "shape": {"field": "m", "type": "nominal", "scale": {"domain": ["CAM−RT", "RRTMG", "GISS−RT", "1:1"], "range": ["triangle-up", "M-1,0H1M0,-1V1", "diamond", "M-1.25,1.6H2.65"]}, "legend": null}
          }
        }
      ]
    }
  ]
}
